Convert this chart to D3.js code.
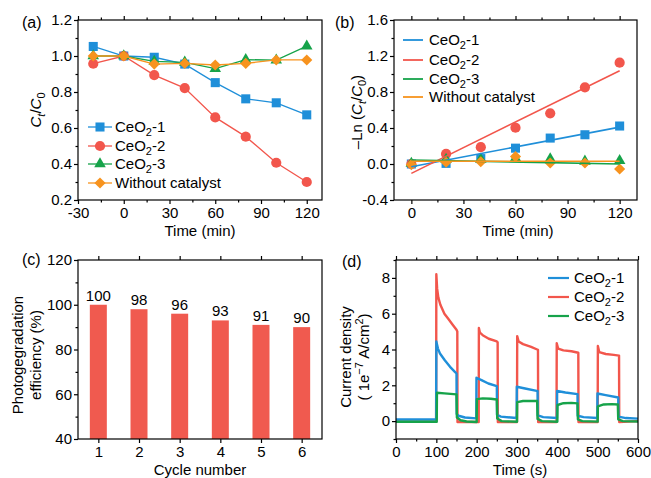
<!DOCTYPE html>
<html><head><meta charset="utf-8">
<script src="https://cdn.jsdelivr.net/npm/d3@7"></script>
<style>
body{margin:0;background:#fff}
text{font-family:"Liberation Sans",Arial,sans-serif;fill:#000}
</style></head><body>
<svg id="c" width="651" height="478"></svg>
<script>
// ---------- data ----------
const seriesNames = ["CeO2-1","CeO2-2","CeO2-3","Without catalyst"];
const colors = {"CeO2-1":"#1f8fd9","CeO2-2":"#f2564c","CeO2-3":"#16a34a","Without catalyst":"#f7931e"};

// (a) Ct/C0
const timeA = [-20,0,20,40,60,80,100,120];
const ceo2_1_a = [1.053,1.0,0.993,0.955,0.852,0.762,0.740,0.673];
const ceo2_2_a = [0.957,1.0,0.894,0.822,0.659,0.552,0.407,0.300];
const ceo2_3_a = [1.0,1.0,0.970,0.965,0.930,0.980,0.977,1.055];
const noCat_a  = [1.0,1.0,0.955,0.959,0.950,0.959,0.978,0.978];

// (b) -Ln(Ct/C0)
const timeB = [0,20,40,60,80,100,120];
const ceo2_1_b = [0.0,0.007,0.06,0.176,0.288,0.325,0.422];
const ceo2_2_b = [0.0,0.112,0.187,0.404,0.563,0.852,1.126];
const ceo2_3_b = [0.007,0.052,0.052,0.064,0.056,0.030,0.037];
const noCat_b  = [-0.007,0.019,0.025,0.082,0.011,0.011,-0.056];
// fitted lines: [start time, start value, end time, end value]
const fit_1 = [0,-0.03,120,0.41];
const fit_2 = [0,-0.104,120,1.037];
const fit_3 = [0,0.045,120,0.0];
const fit_n = [0,0.03,120,0.03];

// (c) cycling
const cycles = [1,2,3,4,5,6];
const efficiency = [100,98,96,93,91,90];

// (d) photocurrent [time s, current 1e-7 A/cm2]
const d_ceo2_2 = [[0,-0.03],[99.5,-0.03],[100,8.2],[102,7.4],[105,6.9],[110,6.5],[115,6.25],[120,6.0],[130,5.7],[140,5.4],[150,5.1],[152,5.0],[152.5,-0.05],[205,-0.05],[205.5,5.2],[208,4.95],[215,4.8],[230,4.6],[250,4.45],[252,4.4],[252.5,-0.05],[300,-0.05],[300.5,4.75],[304,4.45],[315,4.3],[335,4.15],[350,4.0],[352,3.98],[352.5,-0.05],[398,-0.05],[398.5,4.35],[402,4.05],[415,3.95],[435,3.9],[452,3.82],[452.5,-0.05],[500,-0.05],[500.5,4.2],[504,3.85],[520,3.75],[540,3.7],[553,3.66],[553.5,-0.05],[600,0.0]];
const d_ceo2_1 = [[0,0.09],[99.5,0.09],[100,4.45],[104,4.05],[109,3.78],[121,3.4],[134,3.03],[146,2.75],[150,2.66],[150.5,0.4],[155,0.3],[171,0.2],[199,0.15],[199.5,2.42],[212,2.29],[229,2.1],[250,1.95],[250.5,0.35],[260,0.25],[299,0.17],[299.5,1.92],[320,1.82],[349,1.69],[351,1.68],[351.5,0.32],[365,0.22],[399,0.17],[399.5,1.68],[420,1.6],[450,1.51],[450.5,0.3],[465,0.22],[499,0.17],[499.5,1.54],[520,1.45],[551,1.32],[551.5,0.25],[570,0.17],[600,0.14]];
const d_ceo2_3 = [[0,-0.04],[101,-0.04],[101.5,1.58],[120,1.55],[150,1.49],[151,0.2],[160,0.05],[175,-0.02],[200,-0.05],[200.5,1.23],[215,1.27],[235,1.25],[250,1.21],[251,0.15],[262,0.0],[300,-0.04],[300.5,1.06],[315,1.12],[335,1.13],[350,1.12],[351,0.12],[362,0.0],[400,-0.04],[400.5,0.9],[415,1.0],[435,1.02],[450,0.99],[451,0.1],[462,0.0],[500,-0.03],[500.5,0.82],[515,0.93],[535,0.95],[550,0.93],[551,0.1],[562,0.0],[600,-0.02]];

// ---------- drawing ----------
const svg = d3.select("#c");
const fnt = "\"Liberation Sans\",Arial,sans-serif";
const fmtMinus = f => v => f(v).replace("\u2212","-");

function makePanel(cfg){
  const g = svg.append("g");
  const x = d3.scaleLinear().domain(cfg.xd).range([cfg.l, cfg.r]);
  const y = d3.scaleLinear().domain(cfg.yd).range([cfg.b, cfg.t]);
  const style = sel => {
    sel.select(".domain").remove();
    sel.selectAll("line").attr("stroke","#000").attr("stroke-width",1.2);
    sel.selectAll("text").attr("font-size",15).attr("font-family",fnt).attr("fill","#000");
  };
  // minor ticks
  g.append("g").attr("transform",`translate(0,${cfg.b})`)
    .call(d3.axisBottom(x).tickValues(cfg.xm).tickSize(2.5).tickFormat("")).call(style);
  g.append("g").attr("transform",`translate(${cfg.l},0)`)
    .call(d3.axisLeft(y).tickValues(cfg.ym).tickSize(2.5).tickFormat("")).call(style);
  g.append("g").attr("transform",`translate(0,${cfg.t})`)
    .call(d3.axisTop(x).tickValues(cfg.xm).tickSize(2.5).tickFormat("")).call(style);
  // major ticks
  g.append("g").attr("transform",`translate(0,${cfg.b})`)
    .call(d3.axisBottom(x).tickValues(cfg.xt).tickSize(4).tickPadding(3).tickFormat(cfg.xf)).call(style);
  g.append("g").attr("transform",`translate(${cfg.l},0)`)
    .call(d3.axisLeft(y).tickValues(cfg.yt).tickSize(4).tickPadding(2).tickFormat(cfg.yf)).call(style);
  g.append("g").attr("transform",`translate(0,${cfg.t})`)
    .call(d3.axisTop(x).tickValues(cfg.xt).tickSize(4).tickFormat("")).call(style);
  const plot = svg.append("g");
  svg.append("rect").attr("x",cfg.l).attr("y",cfg.t).attr("width",cfg.r-cfg.l).attr("height",cfg.b-cfg.t)
    .attr("fill","none").attr("stroke","#000").attr("stroke-width",1.2);
  return {x,y,plot};
}

function symPath(kind){
  if(kind==="square") return d3.symbol(d3.symbolSquare,82)();
  if(kind==="circle") return d3.symbol(d3.symbolCircle,82)();
  if(kind==="triangle") return d3.symbol(d3.symbolTriangle,58)();
  return d3.symbol(d3.symbolSquare,62)();
}
const markerKind = {"CeO2-1":"square","CeO2-2":"circle","CeO2-3":"triangle","Without catalyst":"diamond"};
function drawMarker(sel, name, px, py){
  sel.append("path").attr("d",symPath(markerKind[name]))
    .attr("transform",`translate(${px},${py})` + (markerKind[name]==="diamond"?" rotate(45)":""))
    .attr("fill",colors[name]).attr("stroke","none");
}
function legendLabel(sel, name, px, py){
  const t = sel.append("text").attr("x",px).attr("y",py).attr("font-size",15).attr("dy","0.35em");
  if(name.startsWith("CeO2")){
    t.append("tspan").text("CeO");
    t.append("tspan").attr("font-size",11).attr("dy",4).text("2");
    t.append("tspan").attr("dy",-4).text("-" + name.split("-")[1]);
  } else t.text(name);
}

function panelLabel(txt,x,y){
  svg.append("text").attr("x",x).attr("y",y).attr("font-size",16).text(txt);
}

// ---------- (a) ----------
{
  const P = makePanel({l:78,r:322,t:20,b:200,xd:[-30,130],yd:[0.2,1.2],
    xt:d3.range(-30,121,30), xm:d3.range(-15,131,15).filter(v=>v%30!==0),
    yt:[0.2,0.4,0.6,0.8,1.0,1.2], ym:[0.3,0.5,0.7,0.9,1.1],
    xf:fmtMinus(d3.format("d")), yf:d3.format(".1f")});
  const sets = [["CeO2-1",ceo2_1_a],["CeO2-2",ceo2_2_a],["CeO2-3",ceo2_3_a],["Without catalyst",noCat_a]];
  const line = d3.line().x((d,i)=>P.x(timeA[i])).y(d=>P.y(d));
  sets.forEach(([n,vals])=>{
    P.plot.append("path").attr("d",line(vals)).attr("fill","none").attr("stroke",colors[n]).attr("stroke-width",1.3);
    vals.forEach((v,i)=>drawMarker(P.plot,n,P.x(timeA[i]),P.y(v)));
  });
  // legend
  const ly = [127,146,164,183];
  sets.forEach(([n],i)=>{
    svg.append("line").attr("x1",88).attr("x2",112).attr("y1",ly[i]).attr("y2",ly[i]).attr("stroke",colors[n]).attr("stroke-width",1.3);
    drawMarker(svg,n,100,ly[i]);
    legendLabel(svg,n,115,ly[i]);
  });
  panelLabel("(a)",22,28);
  svg.append("text").attr("x",200).attr("y",236).attr("text-anchor","middle").attr("font-size",15).text("Time (min)");
  const yl = svg.append("text").attr("transform","translate(41,110) rotate(-90)").attr("text-anchor","middle").attr("font-size",15);
  yl.append("tspan").attr("font-style","italic").text("C");
  yl.append("tspan").attr("font-style","italic").attr("font-size",11).attr("dy",4).text("t");
  yl.append("tspan").attr("dy",-4).text("/");
  yl.append("tspan").attr("font-style","italic").text("C");
  yl.append("tspan").attr("font-size",11).attr("dy",4).text("0");
}

// ---------- (b) ----------
{
  const P = makePanel({l:394,r:637,t:20,b:200,xd:[-10,130],yd:[-0.4,1.6],
    xt:d3.range(0,121,30), xm:[15,45,75,105],
    yt:[-0.4,0,0.4,0.8,1.2,1.6], ym:[-0.2,0.2,0.6,1.0,1.4],
    xf:d3.format("d"), yf:fmtMinus(d3.format(".1f"))});
  const sets = [["CeO2-1",ceo2_1_b,fit_1],["CeO2-2",ceo2_2_b,fit_2],["CeO2-3",ceo2_3_b,fit_3],["Without catalyst",noCat_b,fit_n]];
  sets.forEach(([n,vals])=>vals.forEach((v,i)=>drawMarker(P.plot,n,P.x(timeB[i]),P.y(v))));
  sets.forEach(([n,vals,f])=>{
    P.plot.append("line").attr("x1",P.x(f[0])).attr("y1",P.y(f[1])).attr("x2",P.x(f[2])).attr("y2",P.y(f[3]))
      .attr("stroke",colors[n]).attr("stroke-width",1.6);
  });
  const ly = [40,60,79,97];
  sets.forEach(([n],i)=>{
    svg.append("line").attr("x1",403).attr("x2",423).attr("y1",ly[i]).attr("y2",ly[i]).attr("stroke",colors[n]).attr("stroke-width",1.8);
    legendLabel(svg,n,429,ly[i]);
  });
  panelLabel("(b)",335,28);
  svg.append("text").attr("x",518).attr("y",236).attr("text-anchor","middle").attr("font-size",15).text("Time (min)");
  const yl = svg.append("text").attr("transform","translate(362,112) rotate(-90)").attr("text-anchor","middle").attr("font-size",15);
  yl.append("tspan").text("\u2013Ln (");
  yl.append("tspan").attr("font-style","italic").text("C");
  yl.append("tspan").attr("font-style","italic").attr("font-size",11).attr("dy",4).text("t");
  yl.append("tspan").attr("dy",-4).text("/");
  yl.append("tspan").attr("font-style","italic").text("C");
  yl.append("tspan").attr("font-size",11).attr("dy",4).text("0");
  yl.append("tspan").attr("dy",-4).text(")");
}

// ---------- (c) ----------
{
  const P = makePanel({l:78,r:322,t:260,b:439,xd:[0.5,6.5],yd:[40,120],
    xt:cycles, xm:[],
    yt:[40,60,80,100,120], ym:[50,70,90,110],
    xf:d3.format("d"), yf:d3.format("d")});
  const bw = 17;
  efficiency.forEach((v,i)=>{
    P.plot.append("rect").attr("x",P.x(cycles[i])-bw/2).attr("width",bw)
      .attr("y",P.y(v)).attr("height",P.y(40)-P.y(v)).attr("fill","#f05a4f");
    P.plot.append("text").attr("x",P.x(cycles[i])).attr("y",P.y(v)-4).attr("text-anchor","middle")
      .attr("font-size",15).text(v);
  });
  panelLabel("(c)",22,265);
  svg.append("text").attr("x",200).attr("y",475).attr("text-anchor","middle").attr("font-size",15).text("Cycle number");
  svg.append("text").attr("transform","translate(23,355) rotate(-90)").attr("text-anchor","middle").attr("font-size",15).text("Photogegradation");
  svg.append("text").attr("transform","translate(41,355) rotate(-90)").attr("text-anchor","middle").attr("font-size",15).text("efficiency (%)");
}

// ---------- (d) ----------
{
  const P = makePanel({l:396,r:638,t:260,b:439,xd:[0,600],yd:[-1,9],
    xt:d3.range(0,601,100), xm:d3.range(50,600,100),
    yt:[0,2,4,6,8], ym:[-1,1,3,5,7,9],
    xf:d3.format("d"), yf:d3.format("d")});
  const line = d3.line().x(d=>P.x(d[0])).y(d=>P.y(d[1]));
  [["CeO2-2",d_ceo2_2],["CeO2-1",d_ceo2_1],["CeO2-3",d_ceo2_3]].forEach(([n,data])=>{
    P.plot.append("path").attr("d",line(data)).attr("fill","none").attr("stroke",colors[n])
      .attr("stroke-width",2.4).attr("stroke-linejoin","round");
  });
  const ly = [278,297,316];
  ["CeO2-1","CeO2-2","CeO2-3"].forEach((n,i)=>{
    svg.append("line").attr("x1",548).attr("x2",569).attr("y1",ly[i]).attr("y2",ly[i]).attr("stroke",colors[n]).attr("stroke-width",2.2);
    legendLabel(svg,n,574,ly[i]);
  });
  panelLabel("(d)",342,267);
  svg.append("text").attr("x",520).attr("y",475).attr("text-anchor","middle").attr("font-size",15).text("Time (s)");
  svg.append("text").attr("transform","translate(351,357) rotate(-90)").attr("text-anchor","middle").attr("font-size",15).text("Current density");
  const yl = svg.append("text").attr("transform","translate(369,357) rotate(-90)").attr("text-anchor","middle").attr("font-size",15);
  yl.append("tspan").text("( 1e");
  yl.append("tspan").attr("font-size",11).attr("dy",-6).text("\u22127");
  yl.append("tspan").attr("dy",6).text(" A/cm");
  yl.append("tspan").attr("font-size",11).attr("dy",-6).text("2");
  yl.append("tspan").attr("dy",6).text(")");
}
</script>
</body></html>
